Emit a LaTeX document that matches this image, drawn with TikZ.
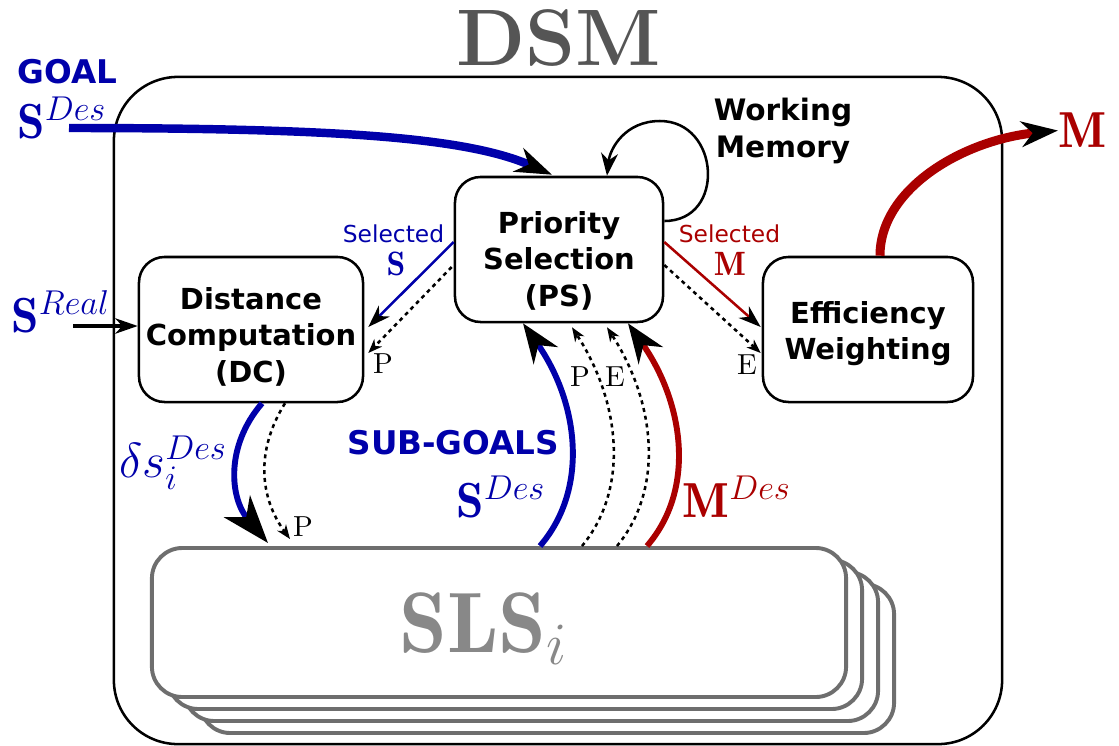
\RequirePackage{fix-cm}
\documentclass[tikz,border=0pt]{standalone}
\usepackage{fontspec}
\setsansfont{DejaVu Sans}
\usepackage{amsmath}
\usetikzlibrary{positioning, arrows.meta, calc}

\definecolor{goalblue}{HTML}{0000AA}
\definecolor{motred}{HTML}{AA0000}
\definecolor{titlegray}{HTML}{555555}
\definecolor{slsgray}{HTML}{6E6E6E}
\definecolor{slstext}{HTML}{888888}

\begin{document}
\begin{tikzpicture}[
        x=0.0125cm, y=0.0125cm,
        block/.style={draw, line width=0.9pt, rounded corners=0.32cm, fill=white, minimum width=2.6cm, minimum height=1.8125cm},
        blocktext/.style={align=center, inner sep=0pt, font=\fontsize{10.3}{13}\selectfont\sffamily\bfseries},
        dsmbox/.style={draw, line width=0.9pt, rounded corners=0.8cm, minimum width=11.1cm, minimum height=8.3375cm},
        slsbox/.style={draw=slsgray, line width=1.4pt, rounded corners=0.38cm, fill=white, minimum width=8.675cm, minimum height=1.8625cm},
        mathlbl/.style={font=\fontsize{17.5}{20}\selectfont, inner sep=0pt},
        pelbl/.style={font=\fontsize{10.3}{12}\selectfont\rmfamily, inner sep=0pt},
        sellbl/.style={font=\fontsize{8.3}{10}\selectfont\sffamily, inner sep=0pt},
        taglbl/.style={font=\fontsize{11.6}{14}\selectfont\sffamily\bfseries, inner sep=0pt},
        flow/.style={line width=2.1pt, -{Stealth[length=14pt, width=10.5pt, inset=4.5pt, color=black]}},
        outflow/.style={line width=3pt, -{Stealth[length=13pt, width=9pt, inset=4pt, color=black]}},
        select/.style={line width=0.9pt, -{Stealth[length=8pt, width=5.5pt, inset=2.5pt, color=black]}},
        pointer/.style={line width=0.9pt, dash pattern=on 1.4pt off 1.4pt, -{Stealth[length=5pt, width=3.8pt, inset=1.5pt]}},
        memory/.style={line width=0.9pt, -{Stealth[length=8pt, width=6pt, inset=2.5pt]}}
    ]
    \useasboundingbox (0,0) rectangle (1119,-746);

    % outer frame and title
    \node[dsmbox] (dsm) at (558,-410.5) {};
    \node[anchor=base, text=titlegray, inner sep=0pt, font=\fontsize{28.5}{30}\selectfont\bfseries] (title) at (558.5,-65) {DSM};

    % stack of SLS
    \foreach \i in {3,2,1}
        \node[slsbox] (sls\i) at ({499+16*\i},{-622.5-12*\i}) {};
    \node[slsbox] (sls0) at (499,-622.5) {};
    \node[anchor=base west, inner sep=0pt, text=slstext, font=\fontsize{30.5}{32}\selectfont] (slslbl) at (399,-652) {$\mathbf{SLS}_i$};

    % modules
    \node[block] (ps) at (559,-249.5) {};
    \node[block, minimum width=2.8cm] (dc) at (251,-329.5) {};
    \node[block, minimum width=2.625cm] (ew) at (868,-329.5) {};
    \node[blocktext] (pstext) at ($(ps)+(0,-11)$) {Priority\\Selection\\(PS)};
    \node[blocktext] (dctext) at ($(dc)+(0,-7)$) {Distance\\Computation\\(DC)};
    \node[blocktext] (ewtext) at ($(ew)+(0,-4)$) {Efficiency\\Weighting};

    % labels
    \node[taglbl, text=goalblue, anchor=base west] (goal) at (17,-83) {GOAL};
    \node[mathlbl, text=goalblue, anchor=base west] (goalS) at (17,-138) {$\mathbf{S}^{Des}$};
    \node[mathlbl, text=goalblue, anchor=base west] (realS) at (11,-332) {$\mathbf{S}^{Real}$};
    \node[taglbl, text=goalblue, anchor=base west] (subgoals) at (347,-454) {SUB-GOALS};
    \node[mathlbl, text=goalblue, anchor=base west] (subS) at (456,-517) {$\mathbf{S}^{Des}$};
    \node[mathlbl, text=motred, anchor=base west] (subM) at (682,-517) {$\mathbf{M}^{Des}$};
    \node[mathlbl, text=goalblue, anchor=base west] (delta) at (119,-477) {$\delta s_i^{Des}$};
    \node[mathlbl, text=motred, anchor=west, font=\fontsize{18}{20}\selectfont] (mout) at (1058,-130.5) {$\mathbf{M}$};
    \node[sellbl, text=goalblue, anchor=base] (selS) at (393.5,-242) {Selected};
    \node[mathlbl, text=goalblue, anchor=base, font=\fontsize{12}{14}\selectfont] (selSsym) at (396,-275) {$\mathbf{S}$};
    \node[sellbl, text=motred, anchor=base] (selM) at (729.5,-242) {Selected};
    \node[mathlbl, text=motred, anchor=base, font=\fontsize{12}{14}\selectfont] (selMsym) at (730,-275) {$\mathbf{M}$};
    \node[blocktext, font=\fontsize{10.5}{13}\selectfont\sffamily\bfseries] (wm) at (783,-131) {Working\\Memory};
    \node[pelbl] (pdc) at (383,-364) {P};
    \node[pelbl] (eew) at (747,-365) {E};
    \node[pelbl] (psub) at (580,-377) {P};
    \node[pelbl] (esub) at (615,-377) {E};
    \node[pelbl] (psls) at (303,-527) {P};

    % connectors
    \coordinate (goalin) at (69,-128);
    \coordinate (realin) at (73,-326);
    \coordinate (wmtop) at (660,-121);
    \draw[outflow, goalblue] (goalin) .. controls +(281,0) and +(-82,36) .. ($(ps.north)+(-7,1)$);
    \draw[select, line width=1.1pt] (realin) -- ($(dc.west)+(0,3.5)$);
    \draw[select, goalblue] ($(ps.west)+(0,7.5)$) -- ($(dc.east)+(4,2.5)$);
    \draw[pointer] ($(ps.west)+(-2,-17.5)$) -- ($(dc.east)+(4,-23.5)$);
    \draw[select, motred] ($(ps.east)+(0,7.5)$) -- ($(ew.west)+(-1,2.5)$);
    \draw[pointer] ($(ps.east)+(0,-15.5)$) -- ($(ew.west)+(-1,-23.5)$);
    \draw[memory] ($(ps.east)+(0,28.5)$) .. controls +(62,0) and +(60,0) .. (wmtop) .. controls +(-35,0) and +(3,27) .. ($(ps.north)+(48,0)$);
    \draw[outflow, line width=3.2pt, motred] ($(ew.north)+(12,0)$) .. controls +(0,67) and +(-95,-9.5) .. (mout.west);
    \draw[flow, goalblue, -{Stealth[length=17pt, width=12pt, inset=5pt, color=black]}] ($(dc.south)+(11,0)$) .. controls +(-37,-43) and +(-38,45) .. ($(sls0.north)+(-231,3)$);
    \draw[pointer] ($(dc.south)+(34,0)$) .. controls +(-30,-48) and +(-30,41) .. ($(sls0.north)+(-209,7)$);
    \draw[flow, goalblue] ($(sls0.north)+(41,0)$) .. controls +(50,58) and +(55,-78) .. ($(ps.south)+(-36,0)$);
    \draw[pointer] ($(sls0.north)+(83,0)$) .. controls +(48,58) and +(48,-74) .. ($(ps.south)+(13,-4)$);
    \draw[pointer] ($(sls0.north)+(118,0)$) .. controls +(48,58) and +(48,-74) .. ($(ps.south)+(48,-4)$);
    \draw[flow, motred] ($(sls0.north)+(148,0)$) .. controls +(50,58) and +(55,-78) .. ($(ps.south)+(69,0)$);

\end{tikzpicture}
\end{document}
